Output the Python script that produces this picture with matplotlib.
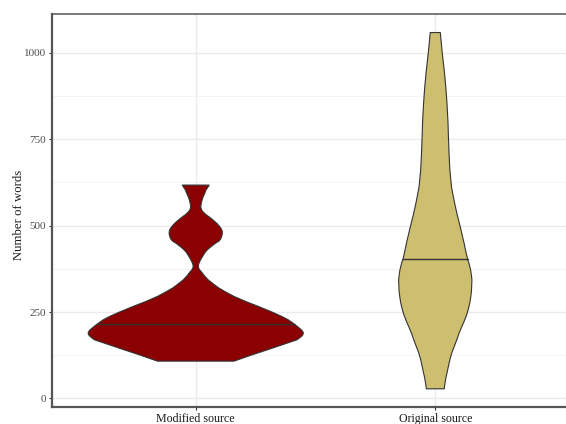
import numpy as np
import matplotlib
matplotlib.use("Agg")
import matplotlib.pyplot as plt

# Groups shown on the x axis
groups = ["Modified source", "Original source"]
fill_colors = ["#8B0000", "#CDBE70"]

# Violin outlines: word count (y) and half-width of the density (x units)
modified_y = [617, 610, 603, 593, 583, 575, 564, 554, 546, 540, 532, 525, 515,
              505, 497, 490, 485, 477, 470, 462, 455, 450, 445, 439, 432, 425,
              418, 410, 402, 395, 388, 380, 372, 365, 355, 343, 332, 320, 308,
              295, 280, 266, 250, 237, 228, 215, 205, 198, 191, 185, 180, 170,
              155, 141, 125, 108]
modified_hw = [0.056, 0.050, 0.043, 0.0375, 0.031, 0.027, 0.023, 0.021, 0.024,
               0.030, 0.042, 0.056, 0.074, 0.090, 0.100, 0.107, 0.110, 0.111,
               0.109, 0.105, 0.097, 0.085, 0.075, 0.064, 0.052, 0.042, 0.035,
               0.028, 0.021, 0.016, 0.012, 0.0104, 0.016, 0.025, 0.036, 0.052,
               0.072, 0.095, 0.125, 0.16, 0.21, 0.262, 0.318, 0.360, 0.385,
               0.412, 0.430, 0.442, 0.449, 0.448, 0.442, 0.424, 0.36, 0.30,
               0.23, 0.16]

original_y = [1058, 1000, 948, 900, 852, 800, 756, 700, 660, 610, 564, 530, 497,
              450, 420, 403, 390, 370, 355, 343, 325, 310, 293, 276, 258, 240,
              224, 208, 190, 170, 150, 132, 115, 100, 87, 74, 62, 50, 38, 28]
original_hw = [0.021, 0.029, 0.0375, 0.044, 0.049, 0.053, 0.055, 0.058, 0.061,
               0.068, 0.081, 0.092, 0.104, 0.12, 0.129, 0.135, 0.141, 0.148,
               0.151, 0.153, 0.152, 0.151, 0.148, 0.144, 0.138, 0.13, 0.121,
               0.111, 0.100, 0.09, 0.079, 0.069, 0.062, 0.057, 0.053, 0.049,
               0.045, 0.042, 0.039, 0.0375]

# Group medians
medians = [216, 403]

y_ticks = [0, 250, 500, 750, 1000]
y_minor = [125, 375, 625, 875]

plt.rcParams["font.family"] = ["Liberation Serif", "DejaVu Serif"]

fig = plt.figure(figsize=(5.66, 4.24), dpi=100)
ax = fig.add_axes([52 / 566, 1 - 407 / 424, (579 - 52) / 566, (407 - 14) / 424])

ax.set_xlim(0.4, 2.6)
ax.set_ylim(-24.6, 1111.6)

# Grid
for v in y_ticks:
    ax.axhline(v, color="#EBEBEB", lw=1.0, zorder=0)
for v in y_minor:
    ax.axhline(v, color="#F3F3F3", lw=0.6, zorder=0)
for i in range(len(groups)):
    ax.axvline(i + 1, color="#EBEBEB", lw=1.0, zorder=0)

profiles = [(modified_y, modified_hw), (original_y, original_hw)]
for i, ((ys, hws), color, med) in enumerate(zip(profiles, fill_colors, medians)):
    pos = i + 1
    ys = np.asarray(ys, dtype=float)
    hws = np.asarray(hws, dtype=float)
    xs = np.concatenate([pos - hws, (pos + hws)[::-1]])
    yy = np.concatenate([ys, ys[::-1]])
    ax.fill(xs, yy, facecolor=color, edgecolor="#333333", lw=0.8,
            joinstyle="round", zorder=2)
    order = np.argsort(ys)
    w = np.interp(med, ys[order], hws[order])
    ax.plot([pos - w, pos + w], [med, med], color="#333333", lw=1.0, zorder=3)

ax.set_xticks([1, 2])
ax.set_xticklabels(groups, fontsize=8.6, color="#1A1A1A")
ax.set_yticks(y_ticks)
ax.set_yticklabels([str(v) for v in y_ticks], fontsize=8, color="#4D4D4D")
ax.tick_params(axis="both", length=2.5, width=0.8, color="#333333", pad=2)
ax.set_ylabel("Number of words", fontsize=9.2, color="#1A1A1A")
ax.yaxis.set_label_coords(-0.052, 0.49)

for side in ["left", "bottom"]:
    ax.spines[side].set_linewidth(1.6)
    ax.spines[side].set_color("#555555")
ax.spines["top"].set_linewidth(1.1)
ax.spines["top"].set_color("#555555")
ax.spines["right"].set_visible(False)

fig.savefig("out.png", dpi=100)
